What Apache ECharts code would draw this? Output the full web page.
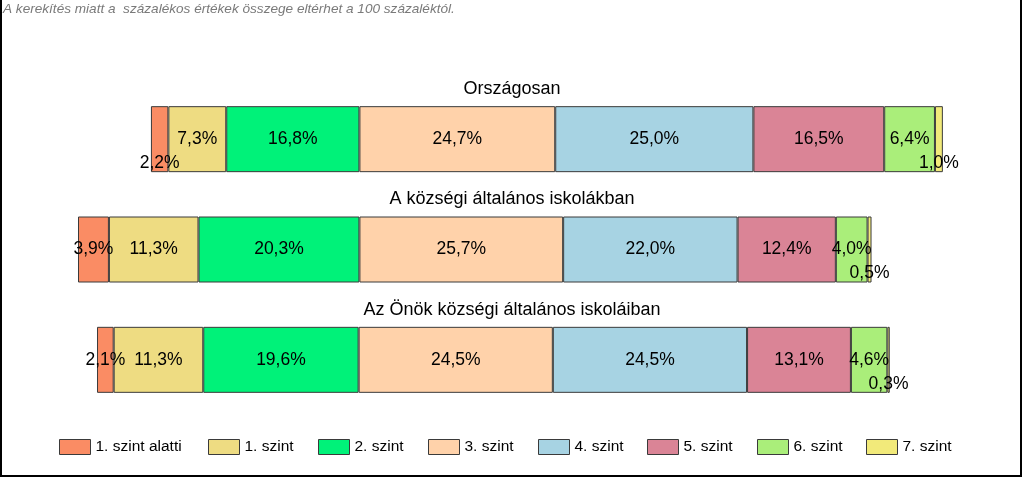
<!DOCTYPE html>
<html>
<head>
<meta charset="utf-8">
<script src="https://cdn.jsdelivr.net/npm/echarts@6/dist/echarts.min.js"></script>
<style>
  html, body { margin: 0; padding: 0; background: #fff; }
  #wrap { position: relative; width: 1024px; height: 478px; }
  #chart { position: absolute; left: 0; top: 0; width: 1024px; height: 478px; }
  #frame { position: absolute; left: 0; top: 0; width: 1022px; height: 477px; box-sizing: border-box;
           border-left: 2px solid #000; border-right: 2px solid #000; border-bottom: 2px solid #000; pointer-events: none; }
</style>
</head>
<body>
<div id="wrap"><div id="chart"></div><div id="frame"></div></div>
<script>
// ---- data ----
const categories = ['Országosan', 'A községi általános iskolákban', 'Az Önök községi általános iskoláiban'];
const levels = ['1. szint alatti', '1. szint', '2. szint', '3. szint', '4. szint', '5. szint', '6. szint', '7. szint'];
const szintAlatti = [2.2, 3.9, 2.1];
const szint1 = [7.3, 11.3, 11.3];
const szint2 = [16.8, 20.3, 19.6];
const szint3 = [24.7, 25.7, 24.5];
const szint4 = [25.0, 22.0, 24.5];
const szint5 = [16.5, 12.4, 13.1];
const szint6 = [6.4, 4.0, 4.6];
const szint7 = [1.0, 0.5, 0.3];
const note = 'A kerekítés miatt a  százalékos értékek összege eltérhet a 100 százaléktól.';

// ---- layout / style ----
const FONT = '"Liberation Sans", Arial, sans-serif';
const colors = ['#FA8C64', '#EEDC82', '#00F279', '#FFD2AA', '#A7D3E3', '#DA8496', '#AAEE7A', '#F2EA7A'];
const barShift = [9.2, 0, 2.4];          // horizontal placement of each bar (axis units)
const lowLabels = { '0-0': true, '7-0': true, '7-1': true, '7-2': true };
const gridTop = 84, gridHeight = 331, barW = 66;
const band = gridHeight / categories.length;
const seriesValues = [szintAlatti, szint1, szint2, szint3, szint4, szint5, szint6, szint7];
const legendLeft = [59, 208, 318, 428, 538, 647, 757, 866];

const fmt = v => v.toFixed(1).replace('.', ',') + '%';

const series = [{
  name: '_shift', type: 'bar', stack: 'all', barWidth: barW, silent: true,
  itemStyle: { color: 'transparent', borderWidth: 0 },
  label: { show: false },
  data: barShift
}];
seriesValues.forEach((vals, s) => {
  series.push({
    name: levels[s], type: 'bar', stack: 'all', barWidth: barW,
    itemStyle: { color: colors[s], borderColor: '#3a3a3a', borderWidth: 1 },
    label: {
      show: true, position: 'inside', color: '#000', fontSize: 17.5, fontFamily: FONT,
      formatter: p => fmt(p.value)
    },
    data: vals.map((v, c) => lowLabels[s + '-' + c]
      ? { value: v, label: { offset: [0, 24] } }
      : v)
  });
});

const legends = levels.map((name, i) => ({
  data: [name], left: legendLeft[i], top: 439, padding: 0, icon: 'rect',
  itemWidth: 31, itemHeight: 15, selectedMode: false,
  itemStyle: { borderColor: '#3a3a3a', borderWidth: 1 },
  textStyle: { fontSize: 15.5, fontFamily: FONT, color: '#000' }
}));

const graphics = [{
  type: 'text', x: 3, y: 2,
  style: { text: note, font: 'italic 13.6px ' + FONT, fill: '#7a7a7a' }
}];
categories.forEach((c, i) => {
  graphics.push({
    type: 'text', x: 512, y: gridTop + band * i + band / 2 - barW / 2 - 17,
    style: { text: c, align: 'center', verticalAlign: 'middle', textAlign: 'center', textVerticalAlign: 'middle',
             fontSize: 18, fontFamily: FONT, fill: '#000' }
  });
});

const chart = echarts.init(document.getElementById('chart'), null, { renderer: 'canvas' });
chart.setOption({
  animation: false,
  backgroundColor: '#fff',
  grid: { left: 78, width: 872, top: gridTop, height: gridHeight },
  xAxis: { type: 'value', min: 0, max: 110, show: false },
  yAxis: { type: 'category', data: categories, inverse: true, show: false },
  legend: legends,
  graphic: graphics,
  series: series
});
</script>
</body>
</html>
